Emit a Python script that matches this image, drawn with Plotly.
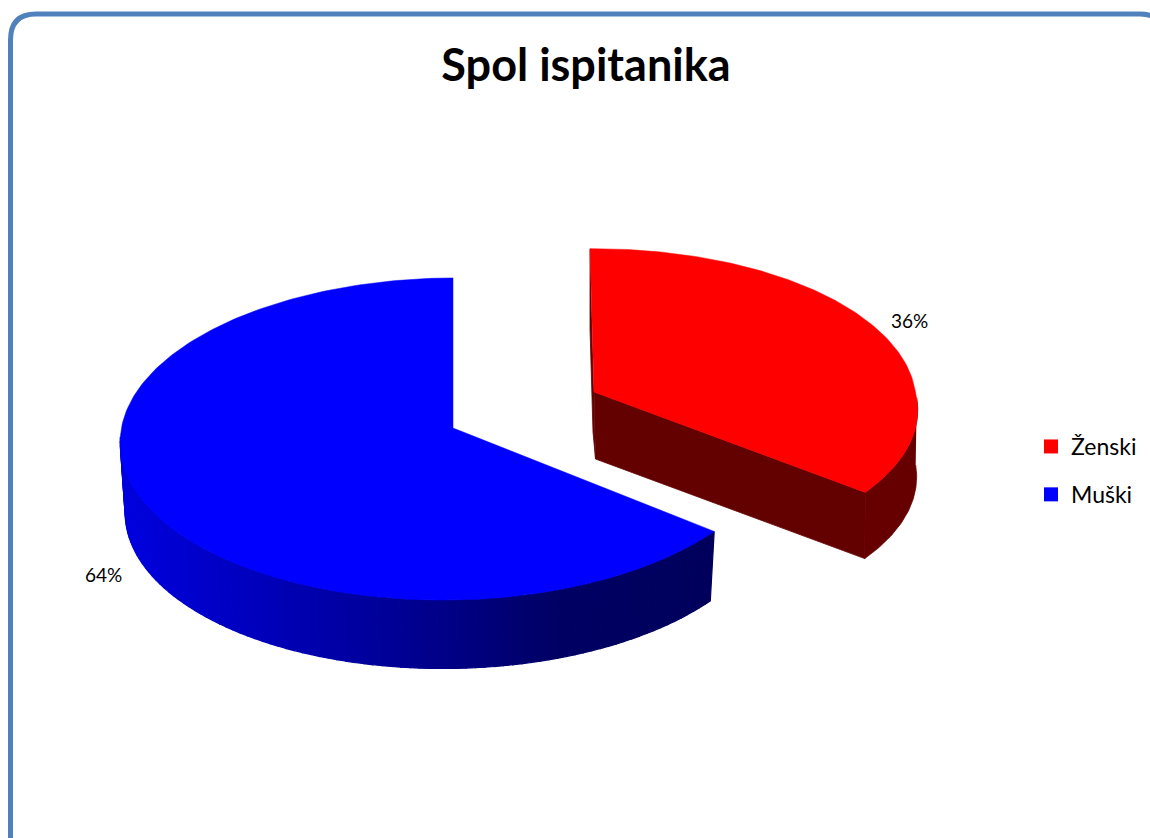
import numpy as np
import plotly.graph_objects as go

# ---- chart data ----
categories = ["Ženski", "Muški"]
values = [36, 64]
title_text = "Spol ispitanika"

# ---- styling ----
top_colors = ["#ff0000", "#0000ff"]
FONT = "Lato"
FRAME = "#4f81bd"
W, H = 1150, 838

# projection of each exploded slice (pixel scale of the axes below)
GEOM = {
    "Ženski": dict(ax=594, ay=392, A=321, B=153, p=0.068, q=0.0, s_up=-4, s_down=-20, sy=-2,
                   depth=(1.5, 67), low=0.992),
    "Muški": dict(ax=453, ay=428, A=327.7, B=160.3, p=0.068, q=0.013, s_up=0, s_down=0, sy=-3,
                  depth=(0, 71), low=0.985),
}
BLUE_STOPS = ([125, 250, 430, 560, 714], [222, 190, 140, 100, 92])


def project(g, theta, r=1.0, lower=False):
    """theta: clockwise from twelve o'clock, radians."""
    u, v = r * np.sin(theta), r * np.cos(theta)
    w = 1 + g["p"] * v + g["q"] * u
    k = g["low"] if lower else 1.0
    skew = np.where(v >= 0, g["s_up"], g["s_down"]) * v
    x = g["ax"] + k * g["A"] * u / w + skew
    y = g["ay"] - k * g["B"] * v / w + g["sy"] * u
    if lower:
        x, y = x + g["depth"][0], y + g["depth"][1]
    return x, y


def poly(x, y, color, lw=0.8):
    return go.Scatter(x=list(x), y=list(y), mode="lines", fill="toself", fillcolor=color,
                      line=dict(color=color, width=lw), showlegend=False, hoverinfo="skip")


total = sum(values)
fracs = np.array(values) / total
start = np.concatenate([[0], np.cumsum(fracs)[:-1]]) * 2 * np.pi
end = np.cumsum(fracs) * 2 * np.pi

fig = go.Figure()

# ----- Muški (drawn first, at the back-left) -----
g = GEOM["Muški"]
i = categories.index("Muški")
t0, t1 = start[i], end[i]
edges = np.linspace(t0, np.radians(268), 90)
for a, b in zip(edges[:-1], edges[1:]):
    seg = np.linspace(a, b, 3)
    xt, yt = project(g, seg)
    xl, yl = project(g, seg, lower=True)
    xs = np.r_[xt, xl[::-1], xt[0]]
    ys = np.r_[yt, yl[::-1], yt[0]]
    lvl = int(np.interp(xt.mean(), *BLUE_STOPS))
    fig.add_trace(poly(xs, ys, f"rgb(0,0,{lvl})", 1.2))
th = np.linspace(t0, t1, 240)
xt, yt = project(g, th)
fig.add_trace(poly(np.r_[g["ax"], xt, g["ax"]], np.r_[g["ay"], yt, g["ay"]], top_colors[i], 0.5))

# ----- Ženski -----
g = GEOM["Ženski"]
i = categories.index("Ženski")
t0, t1 = start[i], end[i]
wall = "#630000"
# back wall sliver
bx, by = project(g, np.array([t0]))
fig.add_trace(poly([bx[0], bx[0], g["ax"] - 2.5 + g["depth"][0], g["ax"] + g["depth"][0], g["ax"]],
                   [by[0], by[0] + 80, g["ay"] + 40, g["ay"] + g["depth"][1], g["ay"]], wall))
# front radial wall
tx, ty = project(g, np.array([t1]))
ux, uy = project(g, np.array([t1]), lower=True)
fig.add_trace(poly([g["ax"], tx[0], ux[0], g["ax"] + g["depth"][0]],
                   [g["ay"], ty[0], uy[0], g["ay"] + g["depth"][1]], wall))
# outer rim
seg = np.linspace(np.radians(93), t1, 60)
xt, yt = project(g, seg)
xl, yl = project(g, seg, lower=True)
fig.add_trace(poly(np.r_[xt, xl[::-1]], np.r_[yt, yl[::-1]], "#660000"))
# top
th = np.linspace(t0, t1, 160)
xt, yt = project(g, th)
fig.add_trace(poly(np.r_[g["ax"], xt, g["ax"]], np.r_[g["ay"], yt, g["ay"]], top_colors[i], 0.5))

# ----- legend entries -----
for name, col in zip(categories, top_colors):
    fig.add_trace(go.Scatter(x=[None], y=[None], mode="markers", name=name, legendgroup=name,
                             marker=dict(symbol="square", size=14, color=col)))

# ----- percent labels -----
label_r = {"Ženski": 1.13, "Muški": 1.14}
label_dy = {"Ženski": 2, "Muški": -8}
for i, name in enumerate(categories):
    g = GEOM[name]
    mid = (start[i] + end[i]) / 2
    lx, ly = project(g, np.array([mid]), r=label_r[name], lower=(name == "Muški"))
    fig.add_annotation(x=float(lx[0]), y=float(ly[0]) + label_dy[name], text=f"{values[i]}%",
                       showarrow=False, font=dict(family=FONT, size=19, color="#000000"))

fig.update_layout(
    width=W, height=H, margin=dict(l=0, r=0, t=0, b=0), autosize=False,
    paper_bgcolor="#ffffff", plot_bgcolor="#ffffff",
    xaxis=dict(range=[0, W], visible=False, fixedrange=True),
    yaxis=dict(range=[H, 0], visible=False, fixedrange=True),
    legend=dict(x=1031 / W, y=1 - 425 / H, xanchor="left", yanchor="top", tracegroupgap=15,
                font=dict(family=FONT, size=23, color="#000000"), bgcolor="rgba(0,0,0,0)"),
    title=dict(text=f"<b>{title_text}</b>", x=586 / W, xanchor="center", y=1 - 65 / H, yanchor="middle",
               font=dict(family=FONT, size=45, color="#000000")),
    shapes=[dict(type="path", xref="x", yref="y", layer="above",
                 path="M 10.5 845 L 10.5 40 Q 10.5 14 36 14 L 1140 14 Q 1165 14 1165 40 L 1165 845 Z",
                 line=dict(color=FRAME, width=5), fillcolor="rgba(0,0,0,0)")],
)
fig.write_html("out.html", config=dict(displayModeBar=False),
               post_script="document.body.style.margin='0';document.documentElement.style.overflow='hidden';")
